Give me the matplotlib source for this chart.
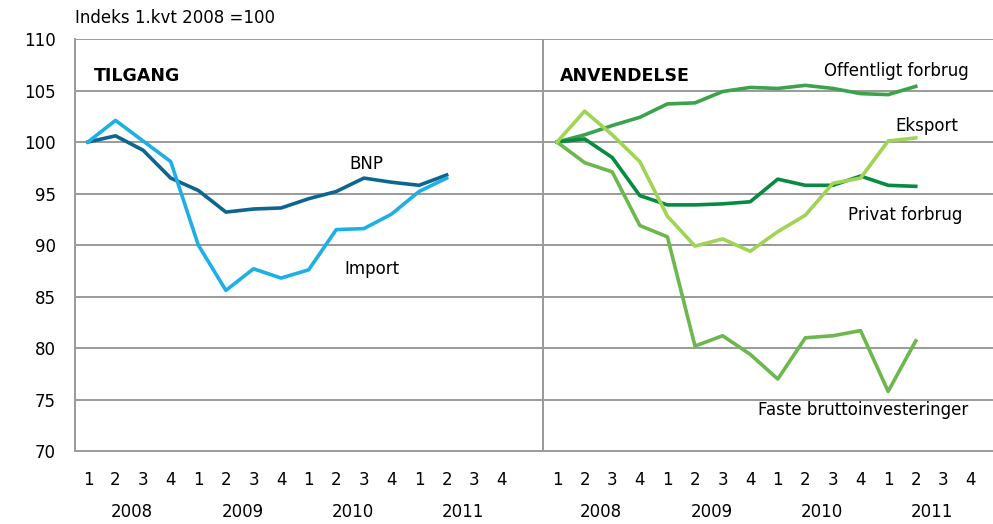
import numpy as np
import matplotlib.pyplot as plt
from matplotlib import font_manager

# pick a narrow font if one is there
names = {f.name for f in font_manager.fontManager.ttflist}
fam = 'Liberation Sans Narrow' if 'Liberation Sans Narrow' in names else 'DejaVu Sans Condensed'
plt.rcParams['font.family'] = [fam, 'DejaVu Sans']

quarters = ['1', '2', '3', '4'] * 4
years = ['2008', '2009', '2010', '2011']

# TILGANG
bnp = [100.0, 100.6, 99.2, 96.5, 95.3, 93.2, 93.5, 93.6, 94.5, 95.2, 96.5, 96.1, 95.8, 96.8]
imp = [100.0, 102.1, 100.1, 98.1, 90.0, 85.6, 87.7, 86.8, 87.6, 91.5, 91.6, 93.0, 95.2, 96.5]

# ANVENDELSE
offentligt = [100.0, 100.7, 101.6, 102.4, 103.7, 103.8, 104.9, 105.3, 105.2, 105.5, 105.2, 104.7, 104.6, 105.4]
eksport = [100.0, 103.0, 100.7, 98.1, 92.8, 89.9, 90.6, 89.4, 91.3, 92.9, 96.0, 96.5, 100.1, 100.4]
privat = [100.0, 100.3, 98.5, 94.8, 93.9, 93.9, 94.0, 94.2, 96.4, 95.8, 95.8, 96.7, 95.8, 95.7]
faste = [100.0, 98.0, 97.1, 91.9, 90.8, 80.2, 81.2, 79.4, 77.0, 81.0, 81.2, 81.7, 75.8, 80.7]

fig = plt.figure(figsize=(9.93, 5.24), dpi=100)
ax = fig.add_axes([0.0755, 0.139, 0.9245, 0.7866])

left_x = np.arange(len(bnp))
right_x = np.arange(len(offentligt)) + 17

grid_c = '#9a9a9a'
for v in range(75, 111, 5):
    ax.axhline(v, color=grid_c, lw=1.4, zorder=0)
ax.axvline(16.5, color=grid_c, lw=1.4, zorder=0)

lw = 2.6
ax.plot(left_x, bnp, color='#0d6691', lw=lw)
ax.plot(left_x, imp, color='#1cb0e6', lw=lw)
ax.plot(right_x, offentligt, color='#3aa34b', lw=lw)
ax.plot(right_x, privat, color='#078a42', lw=lw)
ax.plot(right_x, faste, color='#6cb84e', lw=lw)
ax.plot(right_x, eksport, color='#9fd455', lw=lw)

ax.set_xlim(-0.47, 32.8)
ax.set_ylim(70, 110)
ax.set_yticks(range(70, 111, 5))
ax.tick_params(axis='y', length=0, labelsize=12, pad=14)
ax.tick_params(axis='x', length=0, labelsize=12, pad=14)

xt = list(range(16)) + list(range(17, 33))
ax.set_xticks(xt)
ax.set_xticklabels(quarters + quarters)

for sp in ['top', 'right']:
    ax.spines[sp].set_visible(False)
ax.spines['left'].set_color(grid_c)
ax.spines['left'].set_linewidth(1.4)
ax.spines['bottom'].set_color(grid_c)
ax.spines['bottom'].set_linewidth(1.4)

# year labels
for i, y in enumerate(years):
    for off in (0, 17):
        ax.text(off + 4 * i + 1.6, 64.1, y, ha='center', va='center', fontsize=12)

ax.text(-0.47, 112.0, 'Indeks 1.kvt 2008 =100', ha='left', va='center', fontsize=12)
ax.text(0.2, 106.4, 'TILGANG', ha='left', va='center', fontsize=12.5, fontweight='bold')
ax.text(17.1, 106.4, 'ANVENDELSE', ha='left', va='center', fontsize=12.5, fontweight='bold')

ax.text(10.1, 97.9, 'BNP', ha='center', va='center', fontsize=12)
ax.text(10.3, 87.7, 'Import', ha='center', va='center', fontsize=12)
ax.text(29.3, 106.9, 'Offentligt forbrug', ha='center', va='center', fontsize=12)
ax.text(30.4, 101.6, 'Eksport', ha='center', va='center', fontsize=12)
ax.text(29.6, 92.9, 'Privat forbrug', ha='center', va='center', fontsize=12)
ax.text(28.1, 74.0, 'Faste bruttoinvesteringer', ha='center', va='center', fontsize=12)

fig.savefig('out.png', dpi=100)
